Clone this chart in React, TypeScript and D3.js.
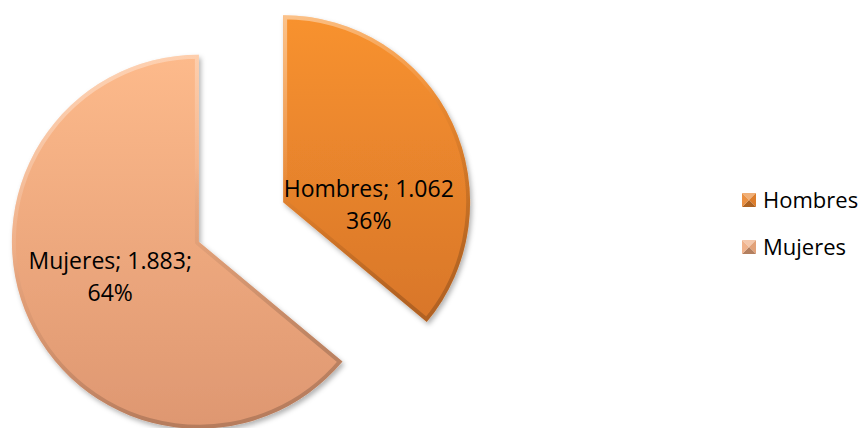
import { useEffect, useRef } from "react";
import * as d3 from "d3";

const CATEGORIES = ["Hombres", "Mujeres"];
const VALUES = [1062, 1883];
const VALUE_LABELS = ["1.062", "1.883"];
const TOP_COLORS = ["#f8922f", "#fdba8b"];
const BOTTOM_COLORS = ["#d8762a", "#de9771"];

const WIDTH = 864;
const HEIGHT = 428;
const CX = 241;
const CY = 222;
const RADIUS = 187;
const EXPLODE = 46.5;
const FONT = "'Open Sans', 'DejaVu Sans', sans-serif";
// Excel nudged the Hombres label down to fit the slice
const LABEL_NUDGE: Array<[number, number]> = [
  [1, 42],
  [-4, -4],
];

function renderChart(svgEl: SVGSVGElement | null) {
  if (!svgEl) return;
  const svg = d3.select(svgEl);
  svg.selectAll("*").remove();

  const defs = svg.append("defs");

  const shadow = defs
    .append("filter")
    .attr("id", "shadow")
    .attr("x", "-10%")
    .attr("y", "-10%")
    .attr("width", "130%")
    .attr("height", "130%");
  shadow
    .append("feDropShadow")
    .attr("dx", 2)
    .attr("dy", 3)
    .attr("stdDeviation", 2.5)
    .attr("flood-color", "#000")
    .attr("flood-opacity", 0.3);

  const bevel = defs
    .append("linearGradient")
    .attr("id", "bevel")
    .attr("x1", 0)
    .attr("y1", 0)
    .attr("x2", 0.4)
    .attr("y2", 1);
  bevel.append("stop").attr("offset", "0%").attr("stop-color", "#fff").attr("stop-opacity", 0.45);
  bevel.append("stop").attr("offset", "45%").attr("stop-color", "#fff").attr("stop-opacity", 0.08);
  bevel.append("stop").attr("offset", "60%").attr("stop-color", "#000").attr("stop-opacity", 0.04);
  bevel.append("stop").attr("offset", "100%").attr("stop-color", "#000").attr("stop-opacity", 0.18);

  CATEGORIES.forEach((_, i) => {
    const g = defs
      .append("linearGradient")
      .attr("id", `fill${i}`)
      .attr("x1", 0)
      .attr("y1", 0)
      .attr("x2", 0)
      .attr("y2", 1);
    g.append("stop").attr("offset", "0%").attr("stop-color", TOP_COLORS[i]);
    g.append("stop").attr("offset", "100%").attr("stop-color", BOTTOM_COLORS[i]);
  });

  const pie = d3
    .pie<number>()
    .sort(null)
    .startAngle(0)
    .endAngle(2 * Math.PI);
  const arcs = pie(VALUES);
  const total = d3.sum(VALUES);

  const arc = d3.arc<d3.PieArcDatum<number>>().innerRadius(0).outerRadius(RADIUS);

  const offset = (d: d3.PieArcDatum<number>) => {
    const mid = (d.startAngle + d.endAngle) / 2;
    return [CX + EXPLODE * Math.sin(mid), CY - EXPLODE * Math.cos(mid)];
  };

  const slices = svg
    .append("g")
    .selectAll("g")
    .data(arcs)
    .join("g")
    .attr("transform", (d) => {
      const [x, y] = offset(d);
      return `translate(${x},${y})`;
    });

  slices.each(function (d, i) {
    const s = d3.select(this);
    const path = arc(d)!;
    defs
      .append("clipPath")
      .attr("id", `clip${i}`)
      .append("path")
      .attr("d", path);
    s.append("path")
      .attr("d", path)
      .attr("fill", `url(#fill${i})`)
      .attr("filter", "url(#shadow)");
    s.append("path")
      .attr("d", path)
      .attr("fill", "none")
      .attr("stroke", "url(#bevel)")
      .attr("stroke-width", 8)
      .attr("stroke-linejoin", "round")
      .attr("clip-path", `url(#clip${i})`);
  });

  // data labels
  slices.each(function (d, i) {
    const [lx, ly] = arc.centroid(d);
    const pct = d3.format(".0%")(d.value / total);
    const lines =
      i === 0
        ? [`${CATEGORIES[i]}; ${VALUE_LABELS[i]}`, pct]
        : [`${CATEGORIES[i]}; ${VALUE_LABELS[i]};`, pct];
    const t = d3
      .select(this)
      .append("text")
      .attr("text-anchor", "middle")
      .attr("font-family", FONT)
      .attr("font-size", 23)
      .attr("fill", "#000");
    lines.forEach((line, k) => {
      t.append("tspan")
        .attr("x", lx + LABEL_NUDGE[i][0])
        .attr("y", ly + LABEL_NUDGE[i][1] + (k - 0.5) * 32 + 8)
        .text(line);
    });
  });

  // legend
  const legendY = d3.scalePoint<string>().domain(CATEGORIES).range([200, 247]);
  const legend = svg
    .append("g")
    .selectAll("g")
    .data(CATEGORIES)
    .join("g")
    .attr("transform", (c) => `translate(742,${legendY(c)})`);

  const sq = 14;
  legend.each(function (_, i) {
    const g = d3.select(this);
    const h = sq / 2;
    const base = d3.interpolateRgb(TOP_COLORS[i], BOTTOM_COLORS[i])(0.5);
    const tris: Array<[string, number]> = [
      [`M0,${-h} L${sq},${-h} L${h},0 Z`, 0.35],
      [`M${sq},${-h} L${sq},${h} L${h},0 Z`, -0.05],
      [`M0,${h} L${sq},${h} L${h},0 Z`, -0.25],
      [`M0,${-h} L0,${h} L${h},0 Z`, 0.1],
    ];
    tris.forEach(([p, k]) => {
      const c =
        k > 0 ? d3.interpolateRgb(base, "#fff")(k) : d3.interpolateRgb(base, "#000")(-k);
      g.append("path").attr("d", p).attr("fill", c);
    });
    g.append("text")
      .attr("x", 21)
      .attr("y", 0)
      .attr("dy", "0.35em")
      .attr("font-family", FONT)
      .attr("font-size", 22)
      .attr("fill", "#000")
      .text(CATEGORIES[i]);
  });
}

export default function App() {
  const svgRef = useRef<SVGSVGElement>(null);

  useEffect(() => {
    document.body.style.margin = "0";
    renderChart(svgRef.current);
  }, []);

  return (
    <svg
      ref={svgRef}
      width={WIDTH}
      height={HEIGHT}
      style={{ display: "block", background: "#fff" }}
    />
  );
}
